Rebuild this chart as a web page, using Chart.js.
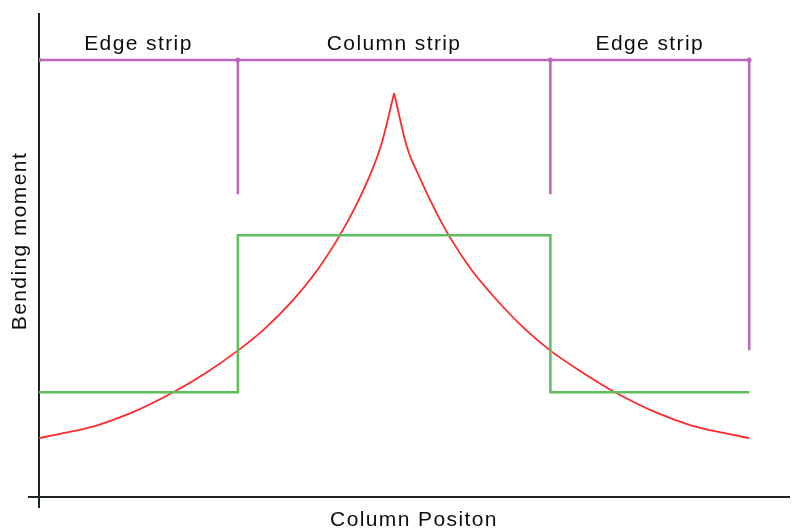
<!DOCTYPE html>
<html>
<head>
<meta charset="utf-8">
<script src="https://cdn.jsdelivr.net/npm/chart.js@4/dist/chart.umd.min.js"></script>
<style>
  html, body { margin: 0; padding: 0; background: #ffffff; }
  #wrap { width: 793px; height: 532px; }
</style>
</head>
<body>
<div id="wrap"><canvas id="c" width="793" height="532"></canvas></div>
<script>
// ---- data ----
const stripBounds = [0, 28, 72, 100];               // column position of strip boundaries
const stripLabels = ["Edge strip", "Column strip", "Edge strip"];
const bracketTop = 90.5;                             // height of the horizontal bracket line
const bracketBottoms = [62.7, 62.7, 30.4];           // lower ends of verticals at 28, 72, 100
const designX = [0, 28, 28, 72, 72, 100];           // green stepped design moment
const designY = [21.7, 21.7, 54.2, 54.2, 21.7, 21.7];
const bendingX = [0, 3.4, 8.1, 12.8, 18.9, 23.6, 27.9, 31.6, 35.8, 39.2, 42.2, 44.3, 46.3, 48.2, 50,
                  51.8, 53.7, 55.7, 57.8, 60.8, 64.2, 68.4, 72.1, 76.4, 81.1, 87.2, 91.9, 96.6, 100];
const bendingY = [12.2, 13.2, 14.8, 17.3, 21.7, 25.8, 30.2, 34.6, 40.8, 47.0, 53.8, 59.4, 65.6, 73.0, 83.6,
                  72.5, 65.8, 59.6, 53.9, 47.2, 41.2, 34.8, 30.2, 25.9, 21.7, 17.3, 14.8, 13.2, 12.2];
const xTitle = "Column Positon";
const yTitle = "Bending moment";

// ---- build datasets ----
const pts = (xs, ys) => xs.map((x, i) => ({x: x, y: ys[i]}));
const peak = bendingY.indexOf(Math.max(...bendingY));
const bendLeft = pts(bendingX.slice(0, peak + 1), bendingY.slice(0, peak + 1));
const bendRight = pts(bendingX.slice(peak), bendingY.slice(peak));

const PURPLE = "#bb66bb", GREEN = "#5cbf5c", RED = "#ff2a2a", AXIS = "#1c2424", TEXT = "#0d0d0d";

const datasets = [];
// purple horizontal bracket
datasets.push({
  data: stripBounds.map(x => ({x: x, y: bracketTop})),
  borderColor: PURPLE, backgroundColor: PURPLE, borderWidth: 2.5,
  pointRadius: 2.4, pointBorderWidth: 0, tension: 0
});
// purple verticals
stripBounds.slice(1).forEach((x, i) => {
  datasets.push({
    data: [{x: x, y: bracketTop}, {x: x, y: bracketBottoms[i]}],
    borderColor: PURPLE, borderWidth: 2.5, pointRadius: 0, tension: 0
  });
});
// green stepped design moment
datasets.push({
  data: pts(designX, designY),
  borderColor: GREEN, borderWidth: 2.5, pointRadius: 0, tension: 0
});
// red bending moment (two monotone halves meeting at the sharp peak)
[bendLeft, bendRight].forEach(d => {
  datasets.push({
    data: d, borderColor: RED, borderWidth: 1.8, pointRadius: 0,
    cubicInterpolationMode: "monotone"
  });
});

const FONT = {family: "'Liberation Sans', Arial, sans-serif", size: 21, lineHeight: 1};

const stripLabelPlugin = {
  id: "stripLabels",
  beforeDraw(chart) { chart.ctx.letterSpacing = "1.4px"; },
  afterDatasetsDraw(chart) {
    const ctx = chart.ctx, xs = chart.scales.x, ys = chart.scales.y;
    ctx.save();
    ctx.letterSpacing = "1.4px";
    ctx.font = "21px 'Liberation Sans', Arial, sans-serif";
    ctx.fillStyle = TEXT;
    ctx.textAlign = "center";
    ctx.textBaseline = "middle";
    const yPix = ys.getPixelForValue(bracketTop) - 16;
    stripLabels.forEach((t, i) => {
      const cx = (xs.getPixelForValue(stripBounds[i]) + xs.getPixelForValue(stripBounds[i + 1])) / 2;
      ctx.fillText(t, cx, yPix);
    });
    ctx.restore();
  }
};

const axisCommon = (title, pad) => ({
  type: "linear",
  border: {display: true, color: AXIS, width: 2},
  grid: {drawOnChartArea: false, drawTicks: true, tickLength: 11, color: AXIS, lineWidth: 2},
  ticks: {display: false},
  afterBuildTicks: s => { s.ticks = [{value: 0}]; },
  title: {display: true, text: title, color: TEXT, font: FONT, padding: pad}
});

new Chart(document.getElementById("c"), {
  type: "line",
  data: {datasets: datasets},
  options: {
    responsive: false,
    animation: false,
    events: [],
    layout: {padding: {top: 14, right: 0, bottom: 0, left: 0}},
    plugins: {legend: {display: false}, tooltip: {enabled: false}},
    scales: {
      x: Object.assign(axisCommon(xTitle, {top: 1.5, bottom: 1.5}), {min: 0, max: 105.6}),
      y: Object.assign(axisCommon("    " + yTitle, {top: 9.5, bottom: -2.5}), {min: 0, max: 100})
    }
  },
  plugins: [stripLabelPlugin]
});
</script>
</body>
</html>
